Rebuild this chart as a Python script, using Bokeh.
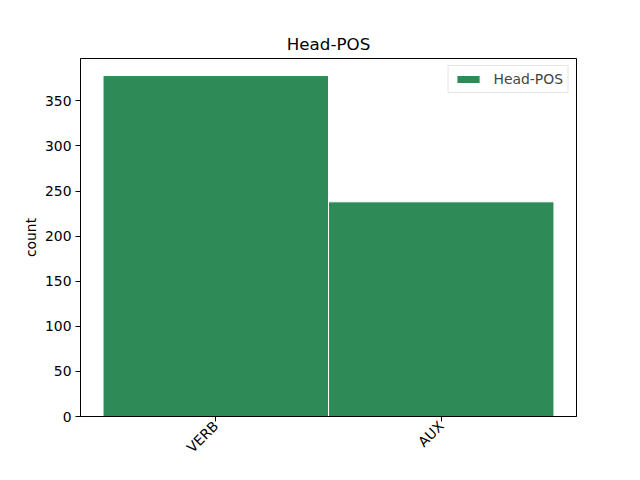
import math
from bokeh.plotting import figure
from bokeh.models import ColumnDataSource, Range1d, FixedTicker, Legend, LegendItem
from bokeh.embed import file_html
from bokeh.resources import INLINE

categories = ["VERB", "AUX"]
counts = [378, 238]
series_name = "Head-POS"
y_ticks = [0, 50, 100, 150, 200, 250, 300, 350]

xs = list(range(len(categories)))
src = ColumnDataSource(dict(x=xs, top=counts))

FONT = "DejaVu Sans"
p = figure(width=624, height=464, output_backend="svg", toolbar_location=None,
           x_range=Range1d(-0.6, 1.6), y_range=Range1d(0, max(counts) * 1.05),
           min_border_left=80, min_border_right=48, min_border_top=58, min_border_bottom=37)
p.title.text = series_name
p.title.align = "center"
p.title.text_font = FONT
p.title.text_font_size = "16.7px"
p.title.text_font_style = "normal"
p.title.text_color = "black"

r = p.vbar(x="x", top="top", width=1.0, bottom=0, source=src,
           fill_color="#2e8b57", line_color="white", line_width=1)

p.xgrid.visible = False
p.ygrid.visible = False
p.outline_line_color = "black"
p.outline_line_width = 1
p.outline_line_alpha = 1

for ax in (p.xaxis[0], p.yaxis[0]):
    ax.major_tick_in = 0
    ax.major_tick_out = 5
    ax.minor_tick_in = 0
    ax.minor_tick_out = 0
    ax.axis_line_color = "black"
    ax.major_tick_line_color = "black"
    ax.major_label_text_font = FONT
    ax.major_label_text_font_size = "13.9px"
    ax.major_label_text_color = "black"
    ax.axis_label_text_font = FONT
    ax.axis_label_text_font_size = "13.9px"
    ax.axis_label_text_font_style = "normal"
    ax.axis_label_text_color = "black"

p.xaxis.ticker = FixedTicker(ticks=xs)
p.xaxis.major_label_overrides = {i: c for i, c in zip(xs, categories)}
p.xaxis.major_label_orientation = math.pi / 4
p.xaxis.major_label_standoff = 2
p.yaxis.ticker = FixedTicker(ticks=y_ticks)
p.yaxis.major_label_standoff = 4
p.yaxis.axis_label = "count"
p.yaxis.axis_label_standoff = 3

legend = Legend(items=[LegendItem(label=series_name, renderers=[r])],
                location="top_right", margin=7, padding=5, spacing=0,
                glyph_width=29, glyph_height=10, label_standoff=11,
                label_text_font=FONT, label_text_font_size="13.9px",
                border_line_color="#cccccc", border_line_width=1,
                background_fill_alpha=0.8)
p.add_layout(legend)

open("out.html", "w").write(file_html(p, INLINE))
